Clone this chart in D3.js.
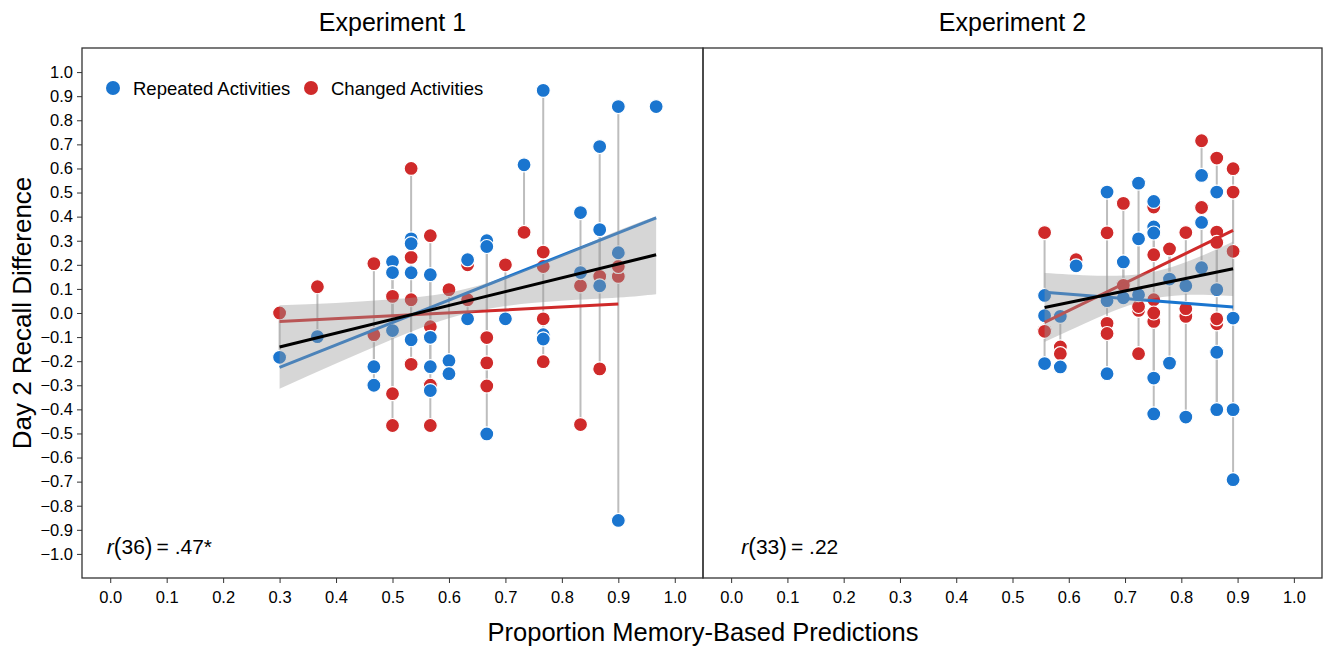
<!DOCTYPE html>
<html>
<head>
<meta charset="utf-8">
<script src="https://cdn.jsdelivr.net/npm/d3@7"></script>
<style>
  body { margin: 0; background: #fff; }
  svg text { font-family: "Liberation Sans", Arial, sans-serif; fill: #000; }
</style>
</head>
<body>
<svg id="chart" width="1325" height="646"></svg>
<script>
// ---- data ----
const panelTitles = ["Experiment 1", "Experiment 2"];
const panelStats = [["36", ".47*"], ["33", ".22"]];
const xTicks = [0, 0.1, 0.2, 0.3, 0.4, 0.5, 0.6, 0.7, 0.8, 0.9, 1.0];
const yTicks = [1.0, 0.9, 0.8, 0.7, 0.6, 0.5, 0.4, 0.3, 0.2, 0.1, 0, -0.1, -0.2, -0.3, -0.4, -0.5, -0.6, -0.7, -0.8, -0.9, -1.0];

// experiment 1: one entry per participant (repeated / changed)
const exp1X   = [0.3, 0.367, 0.467, 0.467, 0.5, 0.5, 0.5, 0.533, 0.533, 0.533, 0.533, 0.567, 0.567, 0.567, 0.567, 0.6, 0.6, 0.633, 0.633, 0.667, 0.667, 0.667, 0.7, 0.733, 0.767, 0.767, 0.767, 0.767, 0.833, 0.833, 0.867, 0.867, 0.867, 0.9, 0.9, 0.9, 0.967];
const exp1Rep = [-0.184, -0.098, -0.30, -0.223, 0.213, 0.168, -0.073, 0.308, 0.288, 0.167, -0.111, 0.159, -0.101, -0.223, -0.322, -0.198, -0.252, 0.221, -0.024, 0.30, 0.276, -0.502, -0.024, 0.615, 0.924, -0.09, -0.108, -0.108, 0.417, 0.168, 0.691, 0.346, 0.113, 0.857, 0.25, -0.861, 0.857];
const exp1Chg = [0.0, 0.109, 0.205, -0.09, -0.467, -0.335, 0.069, 0.60, -0.213, 0.231, 0.055, -0.467, 0.321, -0.057, -0.30, 0.097, -0.252, 0.20, 0.055, -0.102, -0.303, -0.207, 0.20, 0.335, 0.253, 0.193, -0.202, -0.024, -0.463, 0.113, -0.232, 0.152, 0.152, 0.193, 0.152, 0.193, null];

// experiment 2
const exp2X   = [0.557, 0.557, 0.557, 0.585, 0.585, 0.613, 0.668, 0.668, 0.668, 0.697, 0.697, 0.724, 0.724, 0.724, 0.751, 0.751, 0.751, 0.751, 0.751, 0.779, 0.779, 0.808, 0.808, 0.808, 0.836, 0.836, 0.836, 0.863, 0.863, 0.863, 0.863, 0.863, 0.892, 0.892, 0.892];
const exp2Rep = [0.073, -0.011, -0.21, -0.014, -0.224, 0.196, 0.502, 0.051, -0.252, 0.212, 0.063, 0.539, 0.308, 0.076, 0.463, 0.357, 0.332, -0.27, -0.419, 0.141, -0.208, 0.113, -0.432, 0.113, 0.571, 0.376, 0.188, 0.502, 0.097, -0.163, -0.401, -0.401, -0.021, -0.401, -0.692];
const exp2Chg = [0.334, -0.076, -0.076, -0.141, -0.169, 0.221, -0.043, 0.333, -0.085, 0.115, 0.455, -0.169, 0.011, 0.027, 0.44, 0.242, -0.035, 0.055, 0.0, 0.266, 0.266, 0.334, -0.014, 0.018, 0.715, 0.438, 0.438, 0.643, 0.336, 0.293, -0.045, -0.024, 0.599, 0.502, 0.256];

// fitted lines: [x, y] end points
const exp1FitRep = [[0.3, -0.226], [0.967, 0.395]];
const exp1FitChg = [[0.3, -0.035], [0.9, 0.037]];
const exp1FitAll = [[0.3, -0.141], [0.967, 0.242]];
const exp2FitRep = [[0.557, 0.086], [0.892, 0.025]];
const exp2FitChg = [[0.557, -0.039], [0.892, 0.343]];
const exp2FitAll = [[0.557, 0.023], [0.892, 0.184]];

// confidence band of the overall fit
const exp1BandX  = [0.3, 0.4, 0.5, 0.6, 0.7, 0.8, 0.9, 0.967];
const exp1BandLo = [-0.314, -0.210, -0.109, -0.022, 0.029, 0.051, 0.064, 0.078];
const exp1BandHi = [0.032, 0.042, 0.057, 0.084, 0.149, 0.241, 0.342, 0.402];
const exp2BandX  = [0.557, 0.6, 0.65, 0.7, 0.75, 0.8, 0.85, 0.892];
const exp2BandLo = [-0.120, -0.074, -0.021, 0.026, 0.060, 0.074, 0.075, 0.071];
const exp2BandHi = [0.166, 0.160, 0.155, 0.156, 0.170, 0.204, 0.251, 0.297];

const blue = "#1a75cf", red = "#cf2a2a";

// ---- layout ----
const plotTop = 48, plotBottom = 578;
const panels = [
  { x0: 82, x1: 703, labelX: -0.006, X: exp1X, rep: exp1Rep, chg: exp1Chg, fitRep: exp1FitRep, fitChg: exp1FitChg, fitAll: exp1FitAll, bx: exp1BandX, lo: exp1BandLo, hi: exp1BandHi },
  { x0: 703, x1: 1322, labelX: 0.018, X: exp2X, rep: exp2Rep, chg: exp2Chg, fitRep: exp2FitRep, fitChg: exp2FitChg, fitAll: exp2FitAll, bx: exp2BandX, lo: exp2BandLo, hi: exp2BandHi }
];

const svg = d3.select("#chart");
const y = d3.scaleLinear().domain([-1.1, 1.1]).range([plotBottom, plotTop]);

panels.forEach((p, i) => {
  const x = d3.scaleLinear().domain([-0.05, 1.05]).range([p.x0, p.x1]);
  const g = svg.append("g");
  const rows = p.X.map((v, k) => ({ x: v, rep: p.rep[k], chg: p.chg[k] }));

  // connecting segments
  g.selectAll("line.seg").data(rows.filter(d => d.chg !== null)).join("line")
    .attr("x1", d => x(d.x)).attr("x2", d => x(d.x))
    .attr("y1", d => y(d.rep)).attr("y2", d => y(d.chg))
    .attr("stroke", "#bdbdbd").attr("stroke-width", 2);

  g.selectAll("circle.chg").data(rows.filter(d => d.chg !== null)).join("circle")
    .attr("cx", d => x(d.x)).attr("cy", d => y(d.chg)).attr("r", 7)
    .attr("fill", red).attr("stroke", "#fff").attr("stroke-width", 1.2);
  g.selectAll("circle.rep").data(rows).join("circle")
    .attr("cx", d => x(d.x)).attr("cy", d => y(d.rep)).attr("r", 7)
    .attr("fill", blue).attr("stroke", "#fff").attr("stroke-width", 1.2);

  const line = d3.line().x(d => x(d[0])).y(d => y(d[1]));
  g.append("path").attr("d", line(p.fitRep)).attr("stroke", blue).attr("stroke-width", 3).attr("fill", "none");
  g.append("path").attr("d", line(p.fitChg)).attr("stroke", red).attr("stroke-width", 3).attr("fill", "none");

  const band = d3.area().curve(d3.curveNatural)
    .x(d => x(d)).y0((d, k) => y(p.lo[k])).y1((d, k) => y(p.hi[k]));
  g.append("path").attr("d", band(p.bx)).attr("fill", "#999").attr("fill-opacity", 0.4);

  g.append("path").attr("d", line(p.fitAll)).attr("stroke", "#000").attr("stroke-width", 3).attr("fill", "none");

  // frame and x axis
  svg.append("rect").attr("x", p.x0).attr("y", plotTop).attr("width", p.x1 - p.x0).attr("height", plotBottom - plotTop)
    .attr("fill", "none").attr("stroke", "#333").attr("stroke-width", 1.3);
  svg.append("g").attr("transform", `translate(0,${plotBottom})`)
    .call(d3.axisBottom(x).tickValues(xTicks).tickFormat(d3.format(".1f")).tickSizeOuter(0).tickSize(5).tickPadding(8))
    .call(a => a.select(".domain").remove())
    .call(a => a.selectAll("line").attr("stroke", "#333"))
    .call(a => a.selectAll("text").attr("font-size", 16.5).attr("fill", "#222"));

  svg.append("text").attr("x", (p.x0 + p.x1) / 2).attr("y", 31).attr("text-anchor", "middle")
    .attr("font-size", 25).text(panelTitles[i]);

  const t = svg.append("text").attr("x", x(p.labelX)).attr("y", 554).attr("font-size", 21);
  t.append("tspan").attr("font-style", "italic").text("r");
  t.append("tspan").attr("font-size", 23).attr("dy", 1).text("(");
  t.append("tspan").attr("dy", -1).text(panelStats[i][0]);
  t.append("tspan").attr("font-size", 23).attr("dy", 1).text(")");
  t.append("tspan").attr("dy", -1).attr("dx", 4).text("= " + panelStats[i][1]);
});

// y axis
svg.append("g").attr("transform", "translate(82,0)")
  .call(d3.axisLeft(y).tickValues(yTicks).tickFormat(d3.format(".1f")).tickSize(5).tickPadding(4))
  .call(a => a.select(".domain").remove())
  .call(a => a.selectAll("line").attr("stroke", "#333"))
  .call(a => a.selectAll("text").attr("font-size", 16.5).attr("fill", "#222"));

svg.append("text").attr("transform", `translate(31,${(plotTop + plotBottom) / 2}) rotate(-90)`)
  .attr("text-anchor", "middle").attr("font-size", 26).text("Day 2 Recall Difference");
svg.append("text").attr("x", 703).attr("y", 641).attr("text-anchor", "middle")
  .attr("font-size", 25.5).text("Proportion Memory-Based Predictions");

// legend
const legend = [["Repeated Activities", blue, 113], ["Changed Activities", red, 311]];
legend.forEach(([label, col, lx]) => {
  svg.append("circle").attr("cx", lx).attr("cy", 88).attr("r", 7).attr("fill", col);
  svg.append("text").attr("x", lx + 20).attr("y", 94.5).attr("font-size", 18.5).text(label);
});
</script>
</body>
</html>
